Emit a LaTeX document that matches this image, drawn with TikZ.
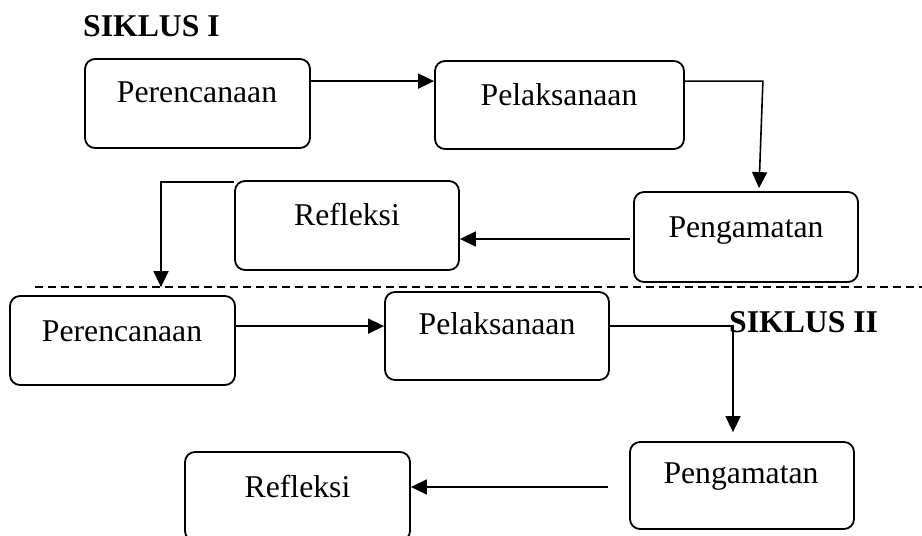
\documentclass[tikz,border=0pt]{standalone}
\usepackage{fontspec}
\setmainfont{Liberation Serif}
\usetikzlibrary{arrows.meta,calc}
\begin{document}
\begin{tikzpicture}[x=1pt,y=-1pt,
  box/.style={draw,line width=1.8pt,rounded corners=10pt,minimum width=225pt,minimum height=89pt,inner sep=0pt},
  lbl/.style={anchor=base,font=\fontsize{31.7}{38}\selectfont,inner sep=0pt},
  ttl/.style={anchor=base west,font=\fontsize{31.7}{38}\selectfont\bfseries,inner sep=0pt},
  arr/.style={line width=1.6pt,-{Triangle[length=16pt,width=15pt]}},
  sepline/.style={line width=1.4pt,dash pattern=on 8pt off 5pt}]
\clip (0,0) rectangle (922,536);
\fill[white] (0,0) rectangle (922,536);
% dashed separator
\coordinate (d1) at (35,287);
\coordinate (d2) at (922,287);
\draw[sepline] (d1) -- (d2);
% titles
\node[ttl] (s1) at (83,36) {SIKLUS I};
\node[ttl] (s2) at (729,332) {SIKLUS II};
% boxes
\node[box] (p1) at (197.5,103.5) {};
\node[box,minimum width=249pt,minimum height=88pt] (l1) at (559.5,105) {};
\node[box,minimum width=224pt,minimum height=90pt] (g1) at (746,237) {};
\node[box,minimum width=224pt] (r1) at (347,225.5) {};
\node[box] (p2) at (122.5,340.5) {};
\node[box,minimum width=224pt,minimum height=88pt] (l2) at (497,336) {};
\node[box] (r2) at (297.5,496.5) {};
\node[box,minimum width=224pt,minimum height=87pt] (g2) at (742,485.5) {};
% labels
\node[lbl] (tp1) at (197,102) {Perencanaan};
\node[lbl] (tl1) at (559,105) {Pelaksanaan};
\node[lbl] (tg1) at (746,237) {Pengamatan};
\node[lbl] (tr1) at (347,225) {Refleksi};
\node[lbl] (tp2) at (122,341) {Perencanaan};
\node[lbl] (tl2) at (497,334) {Pelaksanaan};
\node[lbl] (tr2) at (297.5,497) {Refleksi};
\node[lbl] (tg2) at (741,483) {Pengamatan};
% connectors
\coordinate (a1s) at ([yshift=-23pt]p1.north east);
\draw[arr] (a1s) -- (a1s -| l1.west);
\coordinate (a2s) at ([yshift=-21pt]l1.north east);
\coordinate (a2e) at ([xshift=13pt,yshift=3pt]g1.north);
\draw[arr] (a2s) -- ++(78,0) -- (a2e);
\coordinate (a3s) at ([xshift=-3pt,yshift=-2pt]g1.west);
\draw[arr] (a3s) -- (a3s -| r1.east);
\coordinate (a4s) at ([yshift=-2pt]r1.north west);
\coordinate (a4e) at ([xshift=38.5pt,yshift=8pt]p2.north);
\draw[arr] (a4s) -- (a4s -| a4e) -- (a4e);
\coordinate (a5s) at ([yshift=-31pt]p2.north east);
\draw[arr] (a5s) -- (a5s -| l2.west);
\coordinate (a6s) at ([yshift=-35pt]l2.north east);
\coordinate (a6e) at ([xshift=-9pt,yshift=9pt]g2.north);
\draw[arr] (a6s) -- (a6s -| a6e) -- (a6e);
\coordinate (a7s) at ([xshift=-21pt,yshift=-1.5pt]g2.west);
\draw[arr] (a7s) -- (a7s -| r2.east);
\end{tikzpicture}
\end{document}
